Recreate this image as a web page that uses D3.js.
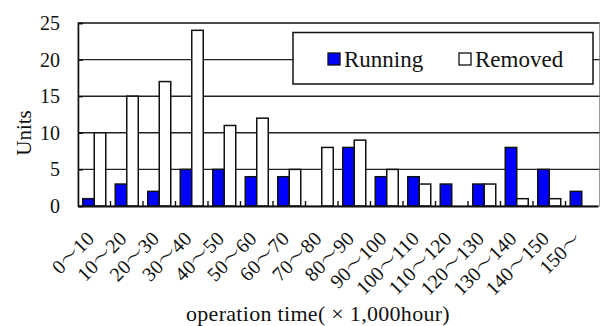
<!DOCTYPE html>
<html>
<head>
<meta charset="utf-8">
<script src="https://cdn.jsdelivr.net/npm/d3@7"></script>
<style>
  html, body { margin: 0; padding: 0; background: #fff; }
  svg { display: block; }
  text { font-family: "Liberation Serif", "Noto Serif CJK JP", "Noto Sans CJK JP", serif; fill: #111; }
</style>
</head>
<body>
<svg id="chart" width="601" height="326"></svg>
<script>
const categories = ["0～10","10～20","20～30","30～40","40～50","50～60","60～70","70～80","80～90","90～100","100～110","110～120","120～130","130～140","140～150","150～"];
const seriesNames = ["Running", "Removed"];
const running = [1,3,2,5,5,4,4,0,8,4,4,3,3,8,5,2];
const removed = [10,15,17,24,11,12,5,8,9,5,3,0,3,1,1,0];
const yTicks = [0,5,10,15,20,25];
const seriesColors = ["#0000ff", "#ffffff"];

const svg = d3.select("#chart");
const pLeft = 78, pRight = 598, pTop = 23, pBottom = 206;

const x = d3.scaleBand().domain(categories).range([pLeft, pRight]).paddingInner(0).paddingOuter(0);
const xs = d3.scaleBand().domain(seriesNames).range([0, x.bandwidth()]).paddingInner(0).paddingOuter(0.413);
const y = d3.scaleLinear().domain([0, 25]).range([pBottom, pTop]);

// plot border
svg.append("rect").attr("x", pLeft).attr("y", pTop).attr("width", 601 - pLeft - 1.5).attr("height", pBottom - pTop)
  .attr("fill", "none").attr("stroke", "#999").attr("stroke-width", 1);

// gridlines
svg.append("g").selectAll("line").data(yTicks.filter(d => d > 0)).join("line")
  .attr("x1", pLeft).attr("x2", 599.5)
  .attr("y1", d => y(d)).attr("y2", d => y(d))
  .attr("stroke", "#222").attr("stroke-width", 1.4);

// y axis
const yAxis = d3.axisLeft(y).tickValues(yTicks).tickSize(-5).tickPadding(18).tickFormat(d3.format("d"));
const gy = svg.append("g").attr("transform", `translate(${pLeft},0)`).call(yAxis);
gy.select(".domain").attr("stroke", "#111").attr("stroke-width", 1.6);
gy.selectAll(".tick line").attr("stroke", "#111").attr("stroke-width", 1.4);
gy.selectAll(".tick text").attr("font-size", 20).attr("fill", "#111");

// bars
const data = categories.map((c, i) => ({cat: c, vals: [running[i], removed[i]]}));
const groups = svg.append("g").selectAll("g").data(data).join("g")
  .attr("transform", d => `translate(${x(d.cat)},0)`);
groups.selectAll("rect").data(d => d.vals.map((v, j) => ({s: seriesNames[j], v, j})).filter(e => e.v > 0)).join("rect")
  .attr("x", e => xs(e.s)).attr("width", xs.bandwidth())
  .attr("y", e => y(e.v)).attr("height", e => y(0) - y(e.v))
  .attr("fill", e => seriesColors[e.j]).attr("stroke", "#111").attr("stroke-width", 1.5);

// x axis
const xAxis = d3.axisBottom(x).tickSize(0).tickFormat("");
const gx = svg.append("g").attr("transform", `translate(0,${pBottom})`).call(xAxis);
gx.select(".domain").attr("stroke", "#111").attr("stroke-width", 1.8);
// boundary ticks (inward)
svg.append("g").selectAll("line").data(categories.slice(1)).join("line")
  .attr("x1", d => x(d)).attr("x2", d => x(d))
  .attr("y1", pBottom).attr("y2", pBottom - 5)
  .attr("stroke", "#111").attr("stroke-width", 1.4);

// x labels rotated
svg.append("g").selectAll("text").data(categories).join("text")
  .attr("transform", d => `translate(${x(d) + x.bandwidth() / 2 + 1},${240}) rotate(-45)`)
  .attr("text-anchor", "end")
  .attr("font-size", 20)
  .text(d => d);

// axis titles
svg.append("text").attr("transform", `translate(31,133) rotate(-90)`).attr("text-anchor", "middle")
  .attr("font-size", 21).text("Units");
svg.append("text").attr("x", 318).attr("y", 321).attr("text-anchor", "middle")
  .attr("font-size", 22).attr("letter-spacing", 0.3).text("operation time( × 1,000hour)");

// legend
const lg = svg.append("g");
lg.append("rect").attr("x", 293).attr("y", 32.5).attr("width", 300).attr("height", 51.5)
  .attr("fill", "#fff").attr("stroke", "#111").attr("stroke-width", 1.5);
const legendX = [328, 459];
seriesNames.forEach((s, i) => {
  lg.append("rect").attr("x", legendX[i]).attr("y", 53).attr("width", 12).attr("height", 12)
    .attr("fill", seriesColors[i]).attr("stroke", "#111").attr("stroke-width", 1.3);
  lg.append("text").attr("x", legendX[i] + 16).attr("y", 67).attr("font-size", 23).text(s);
});
</script>
</body>
</html>
